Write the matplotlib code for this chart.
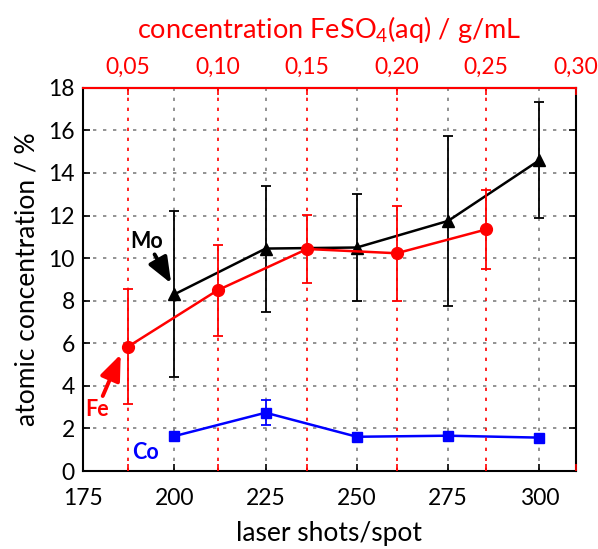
import matplotlib
matplotlib.use("Agg")
import matplotlib.pyplot as plt

plt.rcParams['font.family'] = ['Lato', 'DejaVu Sans']
plt.rcParams['mathtext.fontset'] = 'custom'
plt.rcParams['mathtext.rm'] = 'Lato'
plt.rcParams['mathtext.default'] = 'regular'

# data
shots = [200, 225, 250, 275, 300]
mo = [8.3, 10.45, 10.5, 11.75, 14.6]
mo_err = [3.9, 2.96, 2.5, 4.0, 2.72]
co = [1.64, 2.74, 1.61, 1.66, 1.57]
co_err = [0.1, 0.6, 0.1, 0.1, 0.1]

conc = [0.05, 0.10, 0.15, 0.20, 0.25]
fe = [5.84, 8.49, 10.43, 10.23, 11.35]
fe_err = [2.69, 2.15, 1.6, 2.23, 1.86]

shot_ticks = [175, 200, 225, 250, 275, 300]
conc_ticks = [0.05, 0.10, 0.15, 0.20, 0.25, 0.30]
y_ticks = [0, 2, 4, 6, 8, 10, 12, 14, 16, 18]

fig = plt.figure(figsize=(5.98, 5.49), dpi=100)
ax = fig.add_axes([0.139, 0.142, 0.824, 0.698])

ax.set_xlim(175, 310)
ax.set_ylim(0, 18)
ax.set_xticks(shot_ticks)
ax.set_yticks(y_ticks)
ax.grid(True, color='#808080', linestyle=(0, (2, 4)), linewidth=1.2)
ax.tick_params(direction='in', top=True, right=True, length=5, width=1.2,
               labelsize=16.5)
ax.tick_params(axis='x', pad=12)
ax.tick_params(axis='y', pad=6)
for s in ax.spines.values():
    s.set_linewidth(1.5)

ax.errorbar(shots, mo, yerr=mo_err, color='black', marker='^', markersize=9,
            linewidth=1.8, elinewidth=1.3, capsize=3.5, capthick=1.3, zorder=3)
ax.errorbar(shots, co, yerr=co_err, color='blue', marker='s', markersize=7.5,
            linewidth=1.8, elinewidth=1.3, capsize=3.5, capthick=1.3, zorder=3)

ax.set_xlabel('laser shots/spot', fontsize=19, labelpad=9)
ax.set_ylabel('atomic concentration / %', fontsize=19, labelpad=6)

# top axis for the FeSO4 concentration
ax2 = ax.twiny()
ax2.set_xlim(0.025, 0.30)
ax2.set_ylim(0, 18)
ax2.set_xticks(conc_ticks)
ax2.set_xticklabels([f"{c:.2f}".replace('.', ',') for c in conc_ticks])
ax2.tick_params(axis='x', direction='in', colors='red', bottom=True, top=True,
                labelbottom=False, labeltop=True, length=5, width=1.2,
                labelsize=16.5, pad=7)
ax2.grid(True, axis='x', color='red', linestyle=(0, (2, 4)), linewidth=1.2)
ax2.get_xgridlines()[-1].set_visible(False)
ax2.spines['top'].set_color('red')
ax2.spines['top'].set_linewidth(1.5)
for side in ['bottom', 'left', 'right']:
    ax2.spines[side].set_visible(False)
ax2.set_xlabel('concentration FeSO$_4$(aq) / g/mL', color='red', fontsize=19.5,
              labelpad=14)

ax2.errorbar(conc, fe, yerr=fe_err, color='red', marker='o', markersize=8.5,
             linewidth=1.8, elinewidth=1.3, capsize=3.5, capthick=1.3, zorder=3)

# labels with arrows
arrow = dict(arrowstyle='-|>,head_length=1.0,head_width=0.4', lw=2.8,
             shrinkA=0, shrinkB=2)
ax.annotate('Mo', xy=(199.5, 8.7), xytext=(192.5, 10.8), fontsize=15.5,
            fontweight='bold', color='black', ha='center', va='center',
            arrowprops=dict(arrow, color='black'))
ax.annotate('Fe', xy=(185.6, 5.6), xytext=(178.8, 2.9), fontsize=15.5,
            fontweight='bold', color='red', ha='center', va='center',
            arrowprops=dict(arrow, color='red'))
ax.text(192.2, 0.85, 'Co', fontsize=15.5, fontweight='bold', color='blue',
        ha='center', va='center')

fig.savefig('out.png', dpi=100)
